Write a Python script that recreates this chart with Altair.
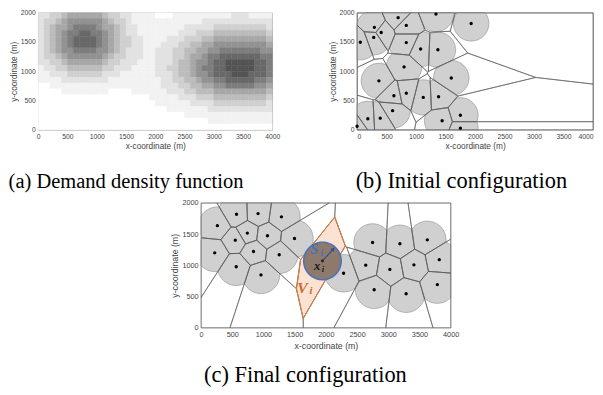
import math
import altair as alt
import pandas as pd

X_MAX, Y_MAX = 4000, 2000
x_ticks = [0, 500, 1000, 1500, 2000, 2500, 3000, 3500, 4000]
y_ticks = [0, 500, 1000, 1500, 2000]

# (a) demand density: darkness level 0 (white) .. 9 (dark)
# rows from y=1950 (top) down to y=50, columns x=50 .. 3950 (100 m cells)
density_rows = [
    "2233455555" "5433221111" "0001111111" "1112221111",
    "2334566666" "6543321111" "1111111122" "2222222222",
    "2345567777" "6554322111" "1111122222" "3333333332",
    "2345677887" "7654322111" "1111222333" "4444444443",
    "2345678888" "7654332211" "1122233344" "5555555554",
    "2345678888" "7654332211" "1222334455" "6666666665",
    "2345667777" "6654322211" "2223344556" "6777777766",
    "2334566666" "6543322211" "2223345567" "7888888877",
    "2233455555" "5433222111" "2223445667" "8899999887",
    "1223344444" "4332221111" "2233445677" "8899999887",
    "1122233333" "3222111111" "2223445667" "8889998887",
    "1111222222" "2211111111" "1223344566" "7788888776",
    "0011111111" "1111111111" "1222334455" "6677777665",
    "0000111111" "1100001111" "1122233444" "5555555554",
    "0000000000" "0000000001" "1111222333" "4444444443",
    "0000000000" "0000000000" "1111112222" "3333333332",
    "0000000000" "0000000000" "0011111112" "2222222222",
    "0000000000" "0000000000" "0000011111" "1111111111",
    "0000000000" "0000000000" "0000000001" "1111111111",
    "0000000000" "0000000000" "0000000000" "0000000000",
]
cell_size = 100
level_values = [0, 1, 2, 3, 4, 5, 6, 7, 8, 9]
level_grays = ["#ffffff", "#f2f2f2", "#e2e2e2", "#d0d0d0", "#bcbcbc",
               "#a7a7a7", "#929292", "#7d7d7d", "#686868", "#545454"]

# (b) initial station positions (m)
b_x = [696, 1337, 1934, 293, 834, 409, 282, 55, 834, 1077, 1370, 796, 370,
       1597, 624, 834, 1122, 1381, 602, 182, 392, 1751, 1442, 1751, 0]
b_y = [1917, 1978, 1817, 1751, 1784, 1662, 1579, 1496, 1490, 1380, 1368, 1075, 837,
       886, 582, 626, 554, 565, 327, 188, 199, 249, 155, 28, 61]

# (c) final station positions (m)
c_x = [568, 913, 1288, 261, 741, 548, 1064, 1497, 219, 840, 1252, 563, 960,
       1945, 2284, 2748, 3186, 3625, 2639, 3025, 3411, 3817, 2774, 3286, 3786]
c_y = [1818, 1829, 1777, 1636, 1517, 1403, 1475, 1429, 1200, 1221, 1169, 977, 847,
       1070, 873, 1366, 1345, 1408, 1003, 935, 1008, 1091, 608, 545, 691]
highlight = 13
radius = 300

captions = ["(a) Demand density function", "(b) Initial configuration", "(c) Final configuration"]

# annotation texts in (c): (text, x, y, size, color)
labels_c = [
    ("S", 1815, 1255, 15, "#4a6fb5"),
    ("i", 1935, 1200, 10, "#4a6fb5"),
    ("x", 1862, 985, 13, "#1a1a1a"),
    ("i", 1955, 935, 9, "#1a1a1a"),
    ("V", 1625, 640, 16, "#d2692a"),
    ("i", 1760, 585, 11, "#d2692a"),
]
arrow_c = [(1945, 1070), (2120, 1262)]

# ---------------- geometry helpers ----------------
BOX = [(0.0, 0.0), (float(X_MAX), 0.0), (float(X_MAX), float(Y_MAX)), (0.0, float(Y_MAX))]


def clip_poly(poly, a, b, c):
    out = []
    n = len(poly)
    for k in range(n):
        P = poly[k]
        Q = poly[(k + 1) % n]
        fp = a * P[0] + b * P[1] - c
        fq = a * Q[0] + b * Q[1] - c
        if fp <= 0:
            out.append(P)
        if (fp < 0 < fq) or (fq < 0 < fp):
            t = fp / (fp - fq)
            out.append((P[0] + t * (Q[0] - P[0]), P[1] + t * (Q[1] - P[1])))
    return out


def clip_box(poly):
    for a, b, c in [(-1, 0, 0), (1, 0, X_MAX), (0, -1, 0), (0, 1, Y_MAX)]:
        poly = clip_poly(poly, a, b, c)
    return poly


def cell(xs, ys, i, start):
    poly = list(start)
    for j in range(len(xs)):
        if j == i:
            continue
        a = xs[j] - xs[i]
        b = ys[j] - ys[i]
        c = (xs[j] ** 2 + ys[j] ** 2 - xs[i] ** 2 - ys[i] ** 2) / 2.0
        poly = clip_poly(poly, a, b, c)
        if not poly:
            break
    return poly


def circle(cx, cy, r, n=90):
    return [(cx + r * math.cos(2 * math.pi * k / n), cy + r * math.sin(2 * math.pi * k / n)) for k in range(n)]


def poly_frame(polys):
    rows = []
    for pid, poly in enumerate(polys):
        if not poly:
            continue
        pts = list(poly) + [poly[0]]
        for k, (x, y) in enumerate(pts):
            rows.append({"pid": pid, "k": k, "x": x, "y": y})
    return pd.DataFrame(rows)


# ---------------- shared scales / axes ----------------
FONT = "Liberation Sans"


def xscale():
    return alt.Scale(domain=[0, X_MAX], nice=False, zero=False)


def yscale():
    return alt.Scale(domain=[0, Y_MAX], nice=False, zero=False)


def x_axis(ls, ts, tp=2, flush=False):
    return alt.Axis(values=x_ticks, format="d", title="x-coordinate (m)", ticks=False, domain=False,
                    grid=False, labelFont=FONT, titleFont=FONT, labelFontSize=ls, titleFontSize=ts,
                    titleFontWeight="normal", labelColor="#444", titleColor="#444", labelPadding=3,
                    titlePadding=tp, labelFlush=flush, labelOverlap=False)


def y_axis(ls, ts):
    return alt.Axis(values=y_ticks, format="d", title="y-coordinate (m)", ticks=False, domain=False,
                    grid=False, labelFont=FONT, titleFont=FONT, labelFontSize=ls, titleFontSize=ts,
                    titleFontWeight="normal", labelColor="#444", titleColor="#444", labelPadding=3,
                    titlePadding=2, labelFlush=False, labelOverlap=False)


def caption(text, dx, offset, size):
    return alt.TitleParams(text=text, orient="bottom", font="Liberation Serif", fontSize=size,
                           fontWeight="normal", color="#000", dx=dx, offset=offset, anchor="middle")


def enc_xy(ls, ts, tp=2, flush=False):
    return dict(x=alt.X("x:Q", scale=xscale(), axis=x_axis(ls, ts, tp, flush)),
                y=alt.Y("y:Q", scale=yscale(), axis=y_axis(ls, ts)))


# ---------------- panel (a) ----------------
dens = []
for r, row in enumerate(density_rows):
    yc = Y_MAX - cell_size / 2 - r * cell_size
    for c, ch in enumerate(row):
        xc = cell_size / 2 + c * cell_size
        dens.append({"x": xc - cell_size / 2, "x2": xc + cell_size / 2,
                     "y": yc - cell_size / 2, "y2": yc + cell_size / 2, "level": int(ch)})
dens_df = pd.DataFrame(dens)
gscale = alt.Scale(domain=level_values, range=level_grays)
panel_a = alt.Chart(dens_df).mark_rect(strokeWidth=0.5).encode(
    x=alt.X("x:Q", scale=xscale(), axis=x_axis(7, 8.5)), x2="x2:Q",
    y=alt.Y("y:Q", scale=yscale(), axis=y_axis(7, 8.5)), y2="y2:Q",
    color=alt.Color("level:Q", scale=gscale, legend=None),
    stroke=alt.Stroke("level:Q", scale=gscale, legend=None),
).properties(width=240, height=120, title=caption(captions[0], -30, 22, 21),
             view=alt.ViewBackground(stroke="#888", strokeWidth=0.8))


# ---------------- voronoi panels ----------------
def voronoi_layers(xs, ys, ls, ts, tp=2, skip=None, flush=False):
    cells = [cell(xs, ys, i, BOX) for i in range(len(xs))]
    grays = []
    for i in range(len(xs)):
        if i == skip:
            grays.append([])
            continue
        g = cell(xs, ys, i, clip_box(circle(xs[i], ys[i], radius)))
        grays.append(g)
    e = enc_xy(ls, ts, tp, flush)
    gray_layer = alt.Chart(poly_frame(grays)).mark_line(
        fill="#d0d0d0", stroke="#8a8a8a", strokeWidth=0.6, interpolate="linear"
    ).encode(detail="pid:N", order="k:Q", **e)
    edge_layer = alt.Chart(poly_frame(cells)).mark_line(
        stroke="#555555", strokeWidth=0.6, interpolate="linear"
    ).encode(detail="pid:N", order="k:Q", **e)
    pts = pd.DataFrame({"x": [x for i, x in enumerate(xs) if i != skip],
                        "y": [y for i, y in enumerate(ys) if i != skip]})
    dot_layer = alt.Chart(pts).mark_circle(size=12, color="#000", opacity=1).encode(**e)
    return cells, gray_layer, edge_layer, dot_layer


_, gb, eb, db = voronoi_layers(b_x, b_y, 7, 8.5, flush=True)
panel_b = alt.layer(gb, eb, db).properties(
    width=242, height=120, title=caption(captions[1], -14, 21, 23),
    view=alt.ViewBackground(stroke="#777", strokeWidth=0.8))

cells_c, gc, ec, dc = voronoi_layers(c_x, c_y, 7.5, 9, tp=4, skip=highlight)
e = enc_xy(7.5, 9, 4)
vi_df = poly_frame([cells_c[highlight]])
vi_fill = alt.Chart(vi_df).mark_line(fill="#fbe2d2", strokeWidth=0, strokeOpacity=0).encode(
    detail="pid:N", order="k:Q", **e)
vi_line = alt.Chart(vi_df).mark_line(stroke="#e07a38", strokeWidth=1).encode(
    detail="pid:N", order="k:Q", **e)
si_df = poly_frame([circle(c_x[highlight], c_y[highlight], radius)])
si_layer = alt.Chart(si_df).mark_line(fill="#8d7a6d", stroke="#4a72bb", strokeWidth=1.6).encode(
    detail="pid:N", order="k:Q", **e)
arrow_df = pd.DataFrame({"x": [p[0] for p in arrow_c], "y": [p[1] for p in arrow_c], "k": [0, 1]})
arrow_line = alt.Chart(arrow_df).mark_line(stroke="#2f4f8f", strokeWidth=1.2).encode(order="k:Q", **e)
arrow_head = alt.Chart(arrow_df.iloc[[1]]).mark_point(
    shape="triangle-up", size=22, filled=True, color="#2f4f8f", angle=41, opacity=1).encode(**e)
xi_dot = alt.Chart(pd.DataFrame({"x": [c_x[highlight]], "y": [c_y[highlight]]})).mark_circle(
    size=9, color="#222", opacity=1).encode(**e)
lab_df = pd.DataFrame(labels_c, columns=["t", "x", "y", "s", "col"])
text_layers = []
for _, r in lab_df.iterrows():
    text_layers.append(alt.Chart(pd.DataFrame([r])).mark_text(
        font="Liberation Serif", fontStyle="italic", fontWeight="bold", fontSize=float(r["s"]),
        color=r["col"], align="center", baseline="middle").encode(text="t:N", **e))

panel_c = alt.layer(gc, vi_fill, ec, vi_line, si_layer, arrow_line, arrow_head, dc, xi_dot,
                    *text_layers).properties(
    width=256, height=128, title=caption(captions[2], -21, 14, 23),
    view=alt.ViewBackground(stroke="#aaa", strokeWidth=0.8))

spacer = alt.Chart(pd.DataFrame({"v": [0]})).mark_point(opacity=0).encode(
    x=alt.value(0), y=alt.value(0)).properties(width=135, height=10,
                                             view=alt.ViewBackground(stroke=None))

top = alt.hconcat(panel_a, panel_b, spacing=48)
bottom = alt.hconcat(spacer, panel_c, spacing=0)
chart = alt.vconcat(top, bottom, spacing=5).properties(
    padding={"left": 0, "top": -5, "right": 0, "bottom": 0}
).configure(background="white").resolve_scale(x="independent", y="independent")

chart.save("out.html", embed_options={"renderer": "svg", "actions": False})
